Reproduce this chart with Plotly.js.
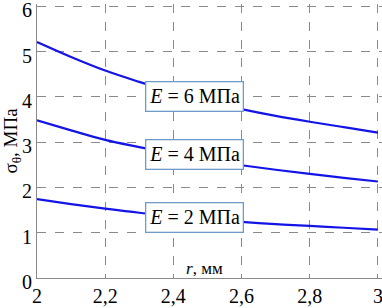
<!DOCTYPE html>
<html><head><meta charset="utf-8">
<script src="https://cdn.plot.ly/plotly-3.0.1.min.js"></script>
<style>html,body{margin:0;padding:0;background:#fff}</style>
</head><body><div id="chart" style="width:382px;height:308px"></div>
<script>
const r = [2.0, 2.1, 2.2, 2.3, 2.4, 2.5, 2.6, 2.7, 2.8, 2.9, 3.0];
const sigmaE6 = [5.21, 4.88, 4.58, 4.33, 4.10, 3.90, 3.73, 3.58, 3.45, 3.33, 3.21];
const sigmaE4 = [3.48, 3.26, 3.05, 2.89, 2.74, 2.60, 2.49, 2.39, 2.30, 2.21, 2.13];
const sigmaE2 = [1.74, 1.63, 1.53, 1.44, 1.37, 1.30, 1.24, 1.19, 1.15, 1.11, 1.07];
const seriesLabels = ['<i>E</i> = 6 МПа', '<i>E</i> = 4 МПа', '<i>E</i> = 2 МПа'];
const labelPos = [[2.462, 4.01], [2.462, 2.73], [2.462, 1.34]];
const xTickVals = [2, 2.2, 2.4, 2.6, 2.8, 3];
const xTickText = ['2', '2,2', '2,4', '2,6', '2,8', '3'];
const yTickVals = [0, 1, 2, 3, 4, 5, 6];
const yTickText = ['0', '1', '2', '3', '4', '5', '6'];

const data = [sigmaE6, sigmaE4, sigmaE2].map(s => ({
  x: r, y: s, type: 'scatter', mode: 'lines',
  line: {color: '#1414e6', width: 2.2, shape: 'spline'}, hoverinfo: 'none'
}));

const fam = 'Liberation Serif, Times New Roman, Liberation Sans, Arial, sans-serif';
const annotations = seriesLabels.map((t, i) => ({
  x: labelPos[i][0], y: labelPos[i][1], xref: 'x', yref: 'y', text: t, showarrow: false,
  font: {family: fam, size: 20, color: '#000'}, bgcolor: '#fff', bordercolor: '#6f9bc8', borderwidth: 1.3,
  borderpad: 3, xanchor: 'center', yanchor: 'middle'
}));
annotations.push({
  x: 2.49, y: 0.22, xref: 'x', yref: 'y', text: '<i>r</i>, мм', showarrow: false,
  font: {family: fam, size: 17, color: '#000'}, xanchor: 'center', yanchor: 'middle'
});

const axisCommon = {
  showgrid: true, gridcolor: '#8a8a8a', griddash: 'dash', gridwidth: 1,
  showline: true, linecolor: '#8a8a8a', linewidth: 1, zeroline: false,
  ticks: '', tickfont: {family: fam, size: 20, color: '#000'}, tickmode: 'array',
  ticklabeloverflow: 'allow'
};

const layout = {
  width: 382, height: 308,
  margin: {l: 37, r: 0, t: 4, b: 30},
  paper_bgcolor: '#fff', plot_bgcolor: '#fff',
  font: {family: fam},
  showlegend: false,
  xaxis: Object.assign({}, axisCommon, {range: [2, 3.012], tickvals: xTickVals, ticktext: xTickText}),
  yaxis: Object.assign({}, axisCommon, {range: [0, 6.05], tickvals: yTickVals, ticktext: yTickText,
    ticklabelshift: 4,
    title: {text: 'σ<sub>θ</sub>, МПа', font: {family: fam, size: 19, color: '#000'}, standoff: 5}}),
  annotations: annotations
};
Plotly.newPlot('chart', data, layout, {displayModeBar: false, staticPlot: true});
</script></body></html>
